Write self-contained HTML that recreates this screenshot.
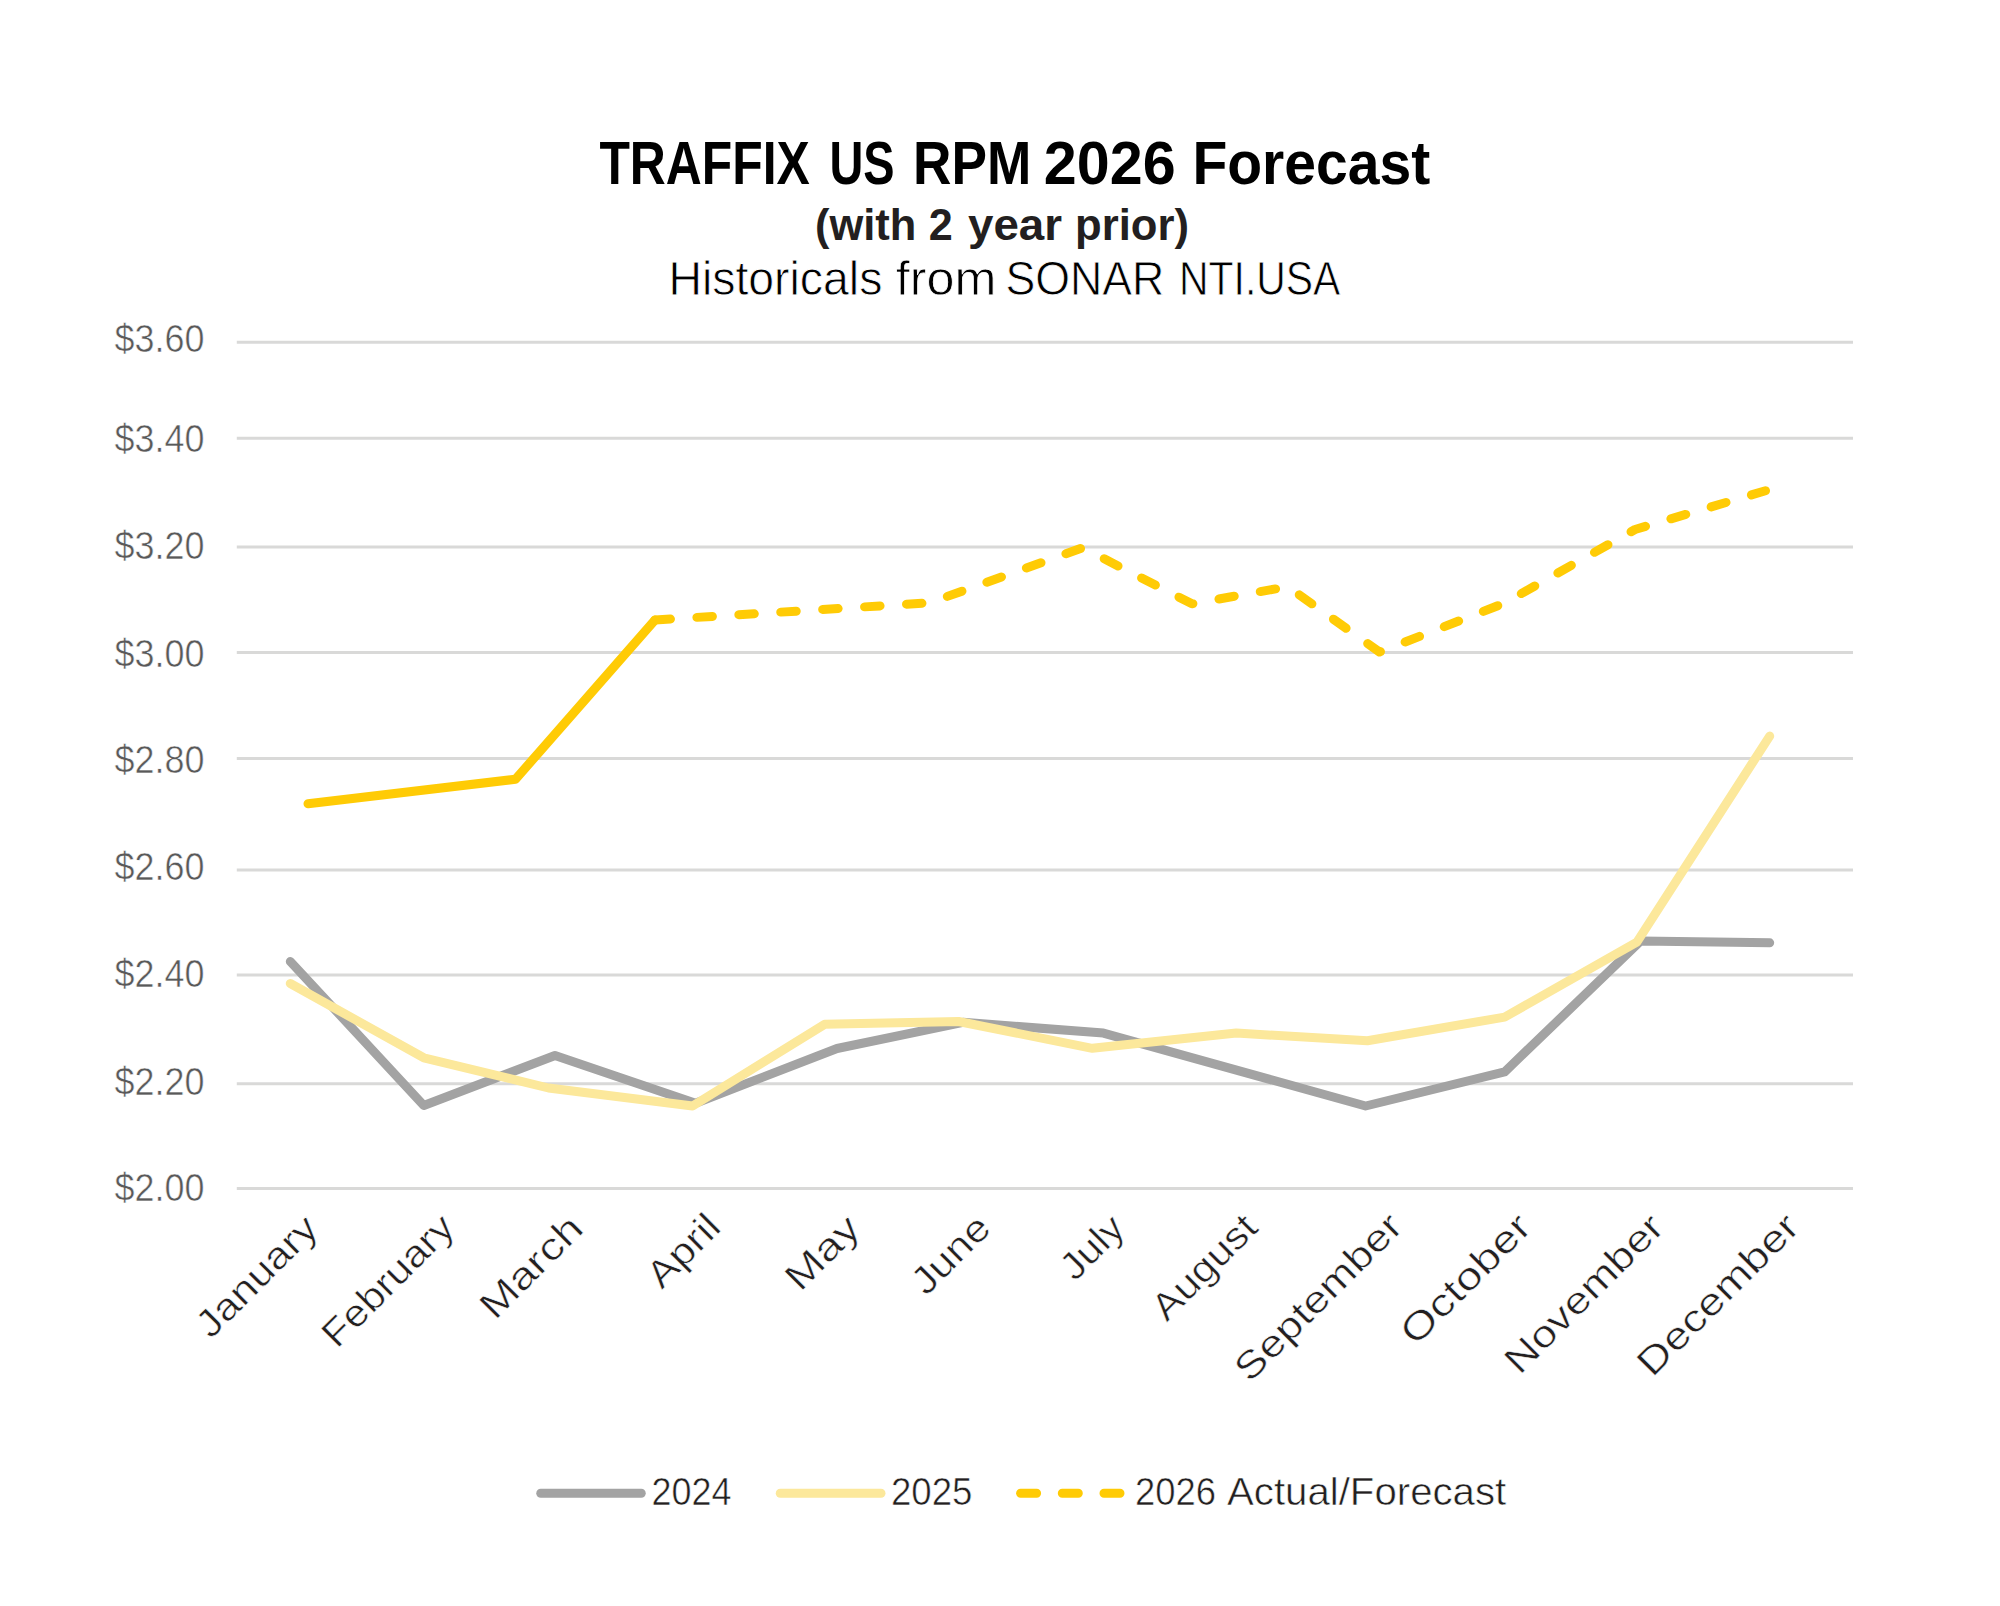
<!DOCTYPE html>
<html lang="en">
<head>
<meta charset="utf-8">
<title>TRAFFIX US RPM 2026 Forecast</title>
<style>
html,body{margin:0;padding:0;background:#fff;}
body{width:2000px;height:1606px;overflow:hidden;}
svg{display:block;}
text{font-family:"Liberation Sans", sans-serif;}
</style>
</head>
<body>
<svg width="2000" height="1606" viewBox="0 0 2000 1606">
<rect width="2000" height="1606" fill="#ffffff"/>
<text y="184.0" font-size="61.5" font-weight="bold" fill="#000000"><tspan x="599.40" textLength="210.40" lengthAdjust="spacingAndGlyphs">TRAFFIX</tspan> <tspan x="829.40" textLength="65.20" lengthAdjust="spacingAndGlyphs">US</tspan> <tspan x="913.00" textLength="118.20" lengthAdjust="spacingAndGlyphs">RPM</tspan> <tspan x="1043.80" textLength="131.80" lengthAdjust="spacingAndGlyphs">2026</tspan> <tspan x="1192.40" textLength="237.80" lengthAdjust="spacingAndGlyphs">Forecast</tspan></text>
<text y="239.7" font-size="45" font-weight="bold" fill="#231f20"><tspan x="815.00" textLength="101.40" lengthAdjust="spacingAndGlyphs">(with</tspan> <tspan x="928.80" textLength="24.00" lengthAdjust="spacingAndGlyphs">2</tspan> <tspan x="968.00" textLength="94.00" lengthAdjust="spacingAndGlyphs">year</tspan> <tspan x="1075.00" textLength="114.00" lengthAdjust="spacingAndGlyphs">prior)</tspan></text>
<text y="295.0" font-size="48.5" font-weight="normal" fill="#000000" stroke="#ffffff" stroke-width="0.8"><tspan x="668.40" textLength="214.00" lengthAdjust="spacingAndGlyphs">Historicals</tspan> <tspan x="895.80" textLength="100.60" lengthAdjust="spacingAndGlyphs">from</tspan> <tspan x="1005.40" textLength="159.00" lengthAdjust="spacingAndGlyphs">SONAR</tspan> <tspan x="1179.00" textLength="161.40" lengthAdjust="spacingAndGlyphs">NTI.USA</tspan></text>
<g stroke="#d9d9d8" stroke-width="3" fill="none">
<line x1="236.8" y1="342.3" x2="1853" y2="342.3"/>
<line x1="236.8" y1="438.3" x2="1853" y2="438.3"/>
<line x1="236.8" y1="547.0" x2="1853" y2="547.0"/>
<line x1="236.8" y1="652.5" x2="1853" y2="652.5"/>
<line x1="236.8" y1="758.5" x2="1853" y2="758.5"/>
<line x1="236.8" y1="870.0" x2="1853" y2="870.0"/>
<line x1="236.8" y1="975.0" x2="1853" y2="975.0"/>
<line x1="236.8" y1="1083.7" x2="1853" y2="1083.7"/>
<line x1="236.8" y1="1188.6" x2="1853" y2="1188.6"/>
</g>
<g font-size="37.9" fill="#595959" stroke="#ffffff" stroke-width="0.55">
<text x="114.5" y="351.5" textLength="90" lengthAdjust="spacingAndGlyphs">$3.60</text>
<text x="114.5" y="451.5" textLength="90" lengthAdjust="spacingAndGlyphs">$3.40</text>
<text x="114.5" y="558.5" textLength="90" lengthAdjust="spacingAndGlyphs">$3.20</text>
<text x="114.5" y="666.5" textLength="90" lengthAdjust="spacingAndGlyphs">$3.00</text>
<text x="114.5" y="772.5" textLength="90" lengthAdjust="spacingAndGlyphs">$2.80</text>
<text x="114.5" y="879.5" textLength="90" lengthAdjust="spacingAndGlyphs">$2.60</text>
<text x="114.5" y="986.5" textLength="90" lengthAdjust="spacingAndGlyphs">$2.40</text>
<text x="114.5" y="1094.5" textLength="90" lengthAdjust="spacingAndGlyphs">$2.20</text>
<text x="114.5" y="1200.5" textLength="90" lengthAdjust="spacingAndGlyphs">$2.00</text>
</g>
<polyline points="290.30,961.50 423.80,1105.50 555.00,1055.50 695.50,1103.30 837.00,1048.50 963.00,1022.30 1103.40,1033.10 1365.60,1106.00 1504.60,1071.90 1640.60,941.10 1769.70,942.80" fill="none" stroke="#a3a3a3" stroke-width="9" stroke-linecap="round" stroke-linejoin="round"/>
<polyline points="290.30,983.50 423.80,1057.80 548.50,1088.00 692.60,1106.00 824.60,1024.30 958.60,1021.50 1092.30,1048.30 1236.30,1033.10 1367.40,1040.70 1504.60,1017.10 1636.90,942.10 1769.70,736.10" fill="none" stroke="#fce89b" stroke-width="9" stroke-linecap="round" stroke-linejoin="round"/>
<polyline points="308.00,803.75 515.50,779.25 655.00,620.00" fill="none" stroke="#ffcb05" stroke-width="9" stroke-linecap="round" stroke-linejoin="round"/>
<polyline points="655.00,620.00 929.50,602.80 1082.60,547.80 1192.00,603.80 1287.80,586.70 1379.50,652.00 1504.25,603.20 1635.00,529.50 1765.50,490.75" fill="none" stroke="#ffcb05" stroke-width="9" stroke-linecap="round" stroke-linejoin="round" stroke-dasharray="15.5 26.5" stroke-dashoffset="0"/>
<g font-size="37.9" fill="#231f20" text-anchor="end" stroke="#ffffff" stroke-width="0.55">
<text id="m0" transform="translate(320.25,1230.65) rotate(-45)" textLength="154.38" lengthAdjust="spacingAndGlyphs">January</text>
<text id="m1" transform="translate(456.80,1229.70) rotate(-45)" textLength="169.43" lengthAdjust="spacingAndGlyphs">February</text>
<text id="m2" transform="translate(585.25,1230.75) rotate(-45)" textLength="127.78" lengthAdjust="spacingAndGlyphs">March</text>
<text id="m3" transform="translate(722.75,1229.25) rotate(-45)" textLength="86.41" lengthAdjust="spacingAndGlyphs">April</text>
<text id="m4" transform="translate(862.50,1230.50) rotate(-45)" textLength="87.92" lengthAdjust="spacingAndGlyphs">May</text>
<text id="m5" transform="translate(992.73,1230.22) rotate(-45)" textLength="94.17" lengthAdjust="spacingAndGlyphs">June</text>
<text id="m6" transform="translate(1126.85,1230.35) rotate(-45)" textLength="73.25" lengthAdjust="spacingAndGlyphs">July</text>
<text id="m7" transform="translate(1259.75,1229.75) rotate(-45)" textLength="131.41" lengthAdjust="spacingAndGlyphs">August</text>
<text id="m8" transform="translate(1404.73,1228.53) rotate(-45)" textLength="219.03" lengthAdjust="spacingAndGlyphs">September</text>
<text id="m9" transform="translate(1533.62,1229.03) rotate(-45)" textLength="167.00" lengthAdjust="spacingAndGlyphs">October</text>
<text id="m10" transform="translate(1666.20,1229.30) rotate(-45)" textLength="207.07" lengthAdjust="spacingAndGlyphs">November</text>
<text id="m11" transform="translate(1801.45,1229.05) rotate(-45)" textLength="210.94" lengthAdjust="spacingAndGlyphs">December</text>
</g>
<g fill="none" stroke-width="9" stroke-linecap="round">
<line x1="540.75" y1="1493.3" x2="641.25" y2="1493.3" stroke="#a3a3a3"/>
<line x1="780.25" y1="1493.3" x2="881" y2="1493.3" stroke="#fce89b"/>
<line x1="1020.6" y1="1493.3" x2="1121" y2="1493.3" stroke="#ffcb05" stroke-dasharray="16 25.7"/>
</g>
<g font-size="37.9" fill="#231f20" stroke="#ffffff" stroke-width="0.55">
<text y="1504.7"><tspan x="651.50" textLength="80.00" lengthAdjust="spacingAndGlyphs">2024</tspan> <tspan x="891.00" textLength="81.50" lengthAdjust="spacingAndGlyphs">2025</tspan> <tspan x="1135.00" textLength="81.00" lengthAdjust="spacingAndGlyphs">2026</tspan> <tspan x="1227.00" textLength="279.20" lengthAdjust="spacingAndGlyphs">Actual/Forecast</tspan></text>
</g>
</svg>
</body>
</html>
